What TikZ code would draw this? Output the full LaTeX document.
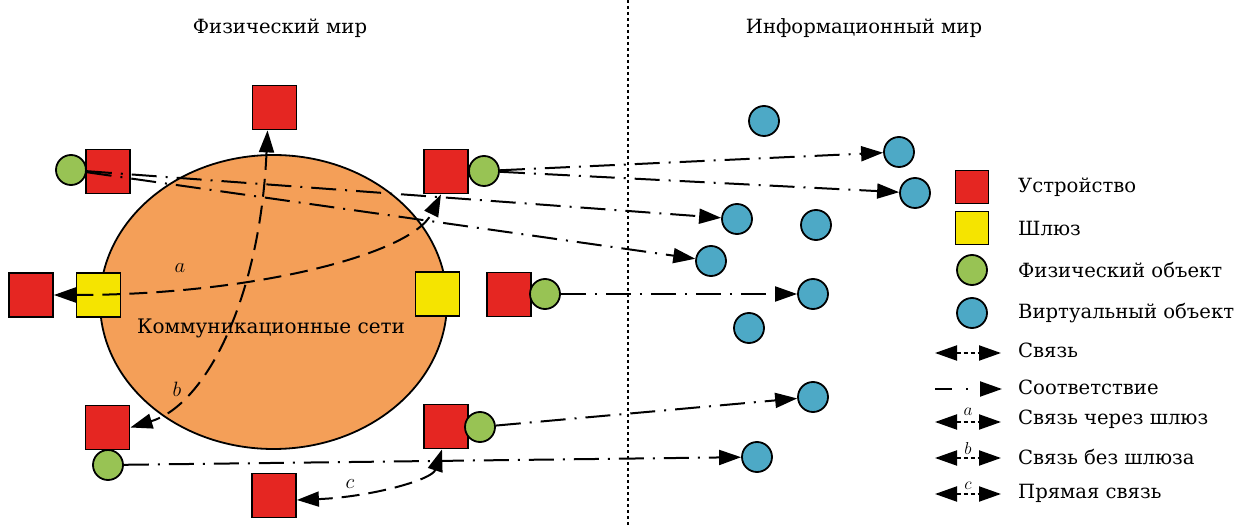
\documentclass[tikz,border=0pt]{standalone}
\usepackage{fontspec}
\setmainfont{DejaVu Serif}
\usetikzlibrary{arrows.meta,shapes.geometric}
\definecolor{devred}{RGB}{229,38,34}
\definecolor{gwyellow}{RGB}{245,228,0}
\definecolor{pgreen}{RGB}{152,195,84}
\definecolor{vblue}{RGB}{77,169,198}
\definecolor{netorange}{RGB}{244,159,88}
\tikzset{
  dev/.style={draw=black, line width=1.8pt, fill=devred, minimum size=44pt, inner sep=0pt},
  gw/.style={draw=black, line width=1.8pt, fill=gwyellow, minimum size=44pt, inner sep=0pt},
  pobj/.style={circle, draw=black, line width=1.8pt, fill=pgreen, minimum size=30pt, inner sep=0pt},
  vobj/.style={circle, draw=black, line width=1.8pt, fill=vblue, minimum size=30pt, inner sep=0pt},
  tip/.tip={Triangle[length=22pt,width=15pt]},
  corr/.style={line width=2pt, dash pattern=on 25pt off 9pt on 2pt off 9pt, -tip},
  comm/.style={line width=2pt, dash pattern=on 18pt off 9pt, tip-tip},
  legconn/.style={line width=2pt, dash pattern=on 4pt off 3pt, tip-tip},
  legcorr/.style={line width=2pt, dash pattern=on 17pt off 14pt on 2pt off 12pt, -tip},
  txt/.style={font=\fontsize{19.6}{22}\selectfont, inner sep=0pt},
  legtxt/.style={txt, anchor=west},
  lab/.style={font=\fontsize{22}{24}\selectfont, inner sep=0pt},
  sep/.style={line width=1.8pt, dash pattern=on 3pt off 3pt}
}
\begin{document}
\begin{tikzpicture}[x=1pt,y=-1pt]
\useasboundingbox (0,0) rectangle (1245,526);
% titles
\node[txt] (t1) at (280,28) {Физический мир};
\node[txt] (t2) at (864,28) {Информационный мир};
% separator
\coordinate (sepTop) at (628,0);
\coordinate (sepBot) at (628,526);
\draw[sep] (sepTop) -- (sepBot);
% network
\node[ellipse, draw=black, line width=1.8pt, fill=netorange, minimum width=347pt, minimum height=294pt, inner sep=0pt] (net) at (273.5,302) {};
\node[txt, font=\fontsize{20}{22}\selectfont] (netlab) at (271,328) {Коммуникационные сети};
% devices
\node[dev] (dTop) at (274.5,107.5) {};
\node[dev] (dTL) at (108,171.5) {};
\node[dev] (dTR) at (446,171.5) {};
\node[dev] (dL) at (31,295) {};
\node[dev] (dMR) at (509,294.5) {};
\node[dev] (dBL) at (107.5,427.5) {};
\node[dev] (dBR) at (446,426.5) {};
\node[dev] (dB) at (274,495.5) {};
% gateways
\node[gw] (gL) at (98.5,295) {};
\node[gw] (gR) at (437.5,294) {};
% physical objects
\node[pobj] (p1) at (71,170) {};
\node[pobj] (p2) at (484,171) {};
\node[pobj] (p3) at (545,294) {};
\node[pobj] (p4) at (480,427) {};
\node[pobj] (p5) at (108,465) {};
% virtual objects
\node[vobj] (v1) at (764,121) {};
\node[vobj] (v2) at (899,152) {};
\node[vobj] (v3) at (915,193) {};
\node[vobj] (v4) at (737,219) {};
\node[vobj] (v5) at (816,225) {};
\node[vobj] (v6) at (711,261) {};
\node[vobj] (v7) at (813,294) {};
\node[vobj] (v8) at (749,328) {};
\node[vobj] (v9) at (813,397) {};
\node[vobj] (v10) at (757,457) {};
% correspondences
\draw[corr] (p1) -- (v4);
\draw[corr] (p1) -- (v6);
\draw[corr] (p2) -- (v2);
\draw[corr] (p2) -- (v3);
\draw[corr] (p3) -- (v7);
\draw[corr] (p4) -- (v9);
\draw[corr] (p5) -- (v10);
% communications
\draw[comm] (dL.east) .. controls (250,295) and (411,255) .. ([xshift=-5pt]dTR.south);
\draw[comm] ([xshift=-7pt]dTop.south) .. controls (260,300) and (205,405) .. (dBL.east);
\draw[comm] ([xshift=-4pt]dBR.south) .. controls (432,480) and (370,497) .. ([yshift=-4.5pt]dB.east);
\node[lab] (la) at (180,268) {$a$};
\node[lab] (lb) at (177,389) {$b$};
\node[lab] (lc) at (350,484) {$c$};
% legend
\node[dev, minimum size=33pt] (lgDev) at (972,187) {};
\node[gw, minimum size=33pt] (lgGw) at (972,228) {};
\node[pobj] (lgP) at (972,270) {};
\node[vobj] (lgV) at (972,313) {};
\node[legtxt] (tDev) at (1018,187) {Устройство};
\node[legtxt] (tGw) at (1018,228) {Шлюз};
\node[legtxt] (tP) at (1018,270) {Физический объект};
\node[legtxt] (tV) at (1018,313) {Виртуальный объект};
\coordinate (l1a) at (935,353); \coordinate (l1b) at (1001,353);
\draw[legconn] (l1a) -- (l1b);
\node[legtxt] (tL1) at (1018,350) {Связь};
\coordinate (l2a) at (935,389); \coordinate (l2b) at (1002,389);
\draw[legcorr] (l2a) -- (l2b);
\node[legtxt] (tL2) at (1018,387) {Соответствие};
\coordinate (l3a) at (935,422); \coordinate (l3b) at (1001,422);
\draw[legconn] (l3a) -- (l3b);
\node[lab, font=\fontsize{18}{20}\selectfont] (l3l) at (968,412) {$a$};
\node[legtxt] (tL3) at (1018,419) {Связь через шлюз};
\coordinate (l4a) at (935,458); \coordinate (l4b) at (1001,458);
\draw[legconn] (l4a) -- (l4b);
\node[lab, font=\fontsize{18}{20}\selectfont] (l4l) at (968,448) {$b$};
\node[legtxt] (tL4) at (1018,457) {Связь без шлюза};
\coordinate (l5a) at (935,494); \coordinate (l5b) at (1001,494);
\draw[legconn] (l5a) -- (l5b);
\node[lab, font=\fontsize{18}{20}\selectfont] (l5l) at (968,486) {$c$};
\node[legtxt] (tL5) at (1018,493) {Прямая связь};
\end{tikzpicture}
\end{document}
